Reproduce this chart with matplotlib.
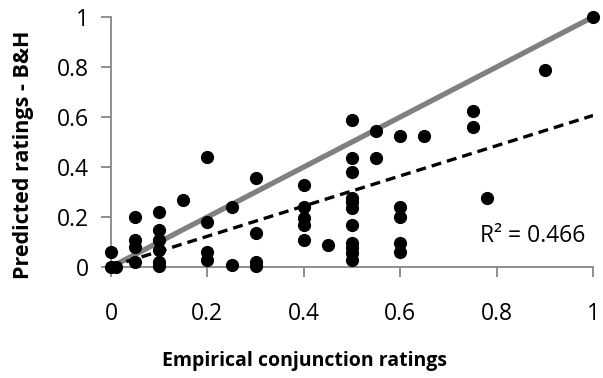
import numpy as np
import matplotlib
matplotlib.use("Agg")
import matplotlib.pyplot as plt

# empirical conjunction ratings (x) and B&H predicted ratings (y)
empirical = [0.0, 0.0, 0.01,
             0.05, 0.05, 0.05, 0.05,
             0.10, 0.10, 0.10, 0.10, 0.10, 0.10,
             0.15,
             0.20, 0.20, 0.20, 0.20,
             0.25, 0.25,
             0.30, 0.30, 0.30, 0.30,
             0.40, 0.40, 0.40, 0.40, 0.40,
             0.45,
             0.50, 0.50, 0.50, 0.50, 0.50, 0.50, 0.50, 0.50, 0.50, 0.50, 0.50,
             0.55, 0.55,
             0.60, 0.60, 0.60, 0.60, 0.60,
             0.65,
             0.75, 0.75,
             0.78,
             0.90,
             1.00]
predicted = [0.06, 0.0, 0.0,
             0.20, 0.11, 0.08, 0.02,
             0.22, 0.15, 0.11, 0.07, 0.02, 0.005,
             0.27,
             0.44, 0.18, 0.06, 0.03,
             0.24, 0.01,
             0.355, 0.135, 0.02, 0.005,
             0.33, 0.24, 0.195, 0.17, 0.11,
             0.09,
             0.59, 0.435, 0.38, 0.275, 0.26, 0.235, 0.17, 0.095, 0.075, 0.055, 0.03,
             0.545, 0.435,
             0.525, 0.24, 0.20, 0.095, 0.06,
             0.525,
             0.625, 0.56,
             0.275,
             0.79,
             1.00]
r2_label = "R² = 0.466"
ticks = [0, 0.2, 0.4, 0.6, 0.8, 1]
tick_labels = ["0", "0.2", "0.4", "0.6", "0.8", "1"]

plt.rcParams['font.family'] = ['Open Sans', 'DejaVu Sans']

fig = plt.figure(figsize=(6.03, 3.78), dpi=100)
ax = fig.add_axes([111/603, 1 - 267/378, 482/603, 250/378])

# diagonal y = x
ax.plot([0, 1], [0, 1], color='#808080', linewidth=3.8, solid_capstyle='butt', zorder=1)

# linear trendline
slope, intercept = np.polyfit(empirical, predicted, 1)
xs = np.array([min(empirical), max(empirical)])
ax.plot(xs, intercept + slope * xs, color='black', linewidth=2.4,
        linestyle=(0, (3, 1.8)), zorder=2)

ax.scatter(empirical, predicted, s=72, color='black', zorder=3, clip_on=False)

ax.text(0.765, 0.124, r2_label, fontsize=16.5, va='center', ha='left')

ax.set_xlim(0, 1)
ax.set_ylim(0, 1)
ax.set_xticks(ticks)
ax.set_xticklabels(tick_labels)
ax.set_yticks(ticks)
ax.set_yticklabels(tick_labels)

for side in ['top', 'right']:
    ax.spines[side].set_visible(False)
for side in ['left', 'bottom']:
    ax.spines[side].set_color('#868686')
    ax.spines[side].set_linewidth(1.3)

ax.tick_params(axis='both', colors='#868686', labelcolor='black', labelsize=16.5,
               length=7, width=1.3)
ax.tick_params(axis='x', pad=18)
ax.tick_params(axis='y', pad=9)

fig.text(305/603, 1 - 361/378, 'Empirical conjunction ratings', fontsize=14,
         fontweight='bold', ha='center', va='center')
fig.text(24/603, 1 - 155/378, 'Predicted ratings - B&H', fontsize=15.5,
         fontweight='bold', ha='center', va='center', rotation=90)

fig.savefig('out.png', dpi=100)
